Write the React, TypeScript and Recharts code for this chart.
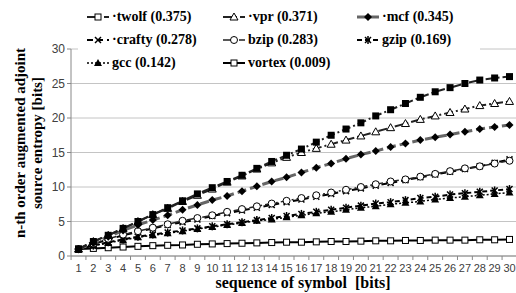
import React from 'react';
import { LineChart, Line, XAxis, YAxis, CartesianGrid } from 'recharts';

const symbols = ['1', '2', '3', '4', '5', '6', '7', '8', '9', '10', '11', '12', '13', '14', '15',
  '16', '17', '18', '19', '20', '21', '22', '23', '24', '25', '26', '27', '28', '29', '30'];

const twolf = [1.0, 2.1, 3.0, 4.0, 5.0, 6.0, 7.0, 8.0, 9.0, 9.9, 10.8, 11.7, 12.7, 13.7, 14.6,
  15.5, 16.5, 17.5, 18.4, 19.3, 20.3, 21.2, 22.1, 23.0, 23.8, 24.4, 25.0, 25.5, 25.8, 26.0];
const vpr = [1.0, 2.1, 3.0, 4.0, 5.0, 6.0, 6.9, 7.9, 8.8, 9.7, 10.7, 11.6, 12.6, 13.5, 14.3,
  15.0, 15.6, 16.2, 16.8, 17.4, 18.0, 18.6, 19.2, 19.8, 20.3, 20.8, 21.3, 21.8, 22.1, 22.4];
const mcf = [1.0, 1.9, 2.8, 3.7, 4.5, 5.2, 5.9, 6.7, 7.4, 8.1, 8.7, 9.4, 10.1, 10.8, 11.4,
  12.1, 12.8, 13.4, 14.1, 14.7, 15.2, 15.8, 16.3, 16.8, 17.2, 17.6, 18.0, 18.4, 18.7, 19.0];
const crafty = [1.0, 1.7, 2.4, 3.0, 3.5, 4.0, 4.5, 4.9, 5.3, 5.8, 6.2, 6.6, 7.0, 7.4, 7.8,
  8.2, 8.6, 9.0, 9.4, 9.8, 10.2, 10.6, 11.0, 11.4, 11.8, 12.2, 12.6, 13.0, 13.5, 14.0];
const bzip = [1.0, 1.8, 2.5, 3.1, 3.6, 4.1, 4.6, 5.1, 5.5, 5.9, 6.4, 6.8, 7.2, 7.6, 8.0,
  8.4, 8.8, 9.2, 9.6, 10.0, 10.4, 10.8, 11.1, 11.5, 11.9, 12.3, 12.7, 13.0, 13.4, 13.8];
const gzip = [1.0, 1.5, 2.0, 2.4, 2.8, 3.1, 3.4, 3.7, 4.0, 4.3, 4.6, 4.9, 5.2, 5.5, 5.8,
  6.1, 6.4, 6.7, 7.0, 7.3, 7.6, 7.8, 8.1, 8.4, 8.6, 8.9, 9.1, 9.3, 9.5, 9.7];
const gcc = [1.0, 1.5, 1.9, 2.3, 2.7, 3.0, 3.3, 3.6, 3.9, 4.2, 4.5, 4.8, 5.1, 5.3, 5.6,
  5.9, 6.2, 6.4, 6.7, 7.0, 7.2, 7.5, 7.7, 7.9, 8.2, 8.4, 8.6, 8.8, 9.0, 9.2];
const vortex = [1.0, 1.1, 1.2, 1.3, 1.4, 1.5, 1.55, 1.6, 1.7, 1.75, 1.8, 1.85, 1.9, 1.95, 2.0,
  2.0, 2.05, 2.1, 2.1, 2.15, 2.2, 2.2, 2.25, 2.25, 2.3, 2.3, 2.3, 2.35, 2.35, 2.4];

const yTicks = [0, 5, 10, 15, 20, 25, 30];

const data = symbols.map((s, i) => ({
  n: s,
  twolf: twolf[i], vpr: vpr[i], mcf: mcf[i], crafty: crafty[i],
  bzip: bzip[i], gzip: gzip[i], gcc: gcc[i], vortex: vortex[i],
}));

type Shape = 'sqFilled' | 'sqHollow' | 'triHollow' | 'diamond' | 'x' | 'circle' | 'star' | 'triFilled';

const Marker = ({ cx, cy, shape }: { cx: number; cy: number; shape: Shape }) => {
  if (cx == null || cy == null) return null;
  switch (shape) {
    case 'sqFilled':
      return <rect x={cx - 3.5} y={cy - 3.5} width={7} height={7} fill="#000" />;
    case 'sqHollow':
      return <rect x={cx - 3} y={cy - 3} width={6} height={6} fill="#fff" stroke="#000" strokeWidth={1} />;
    case 'triHollow':
      return <polygon points={`${cx},${cy - 4} ${cx + 4},${cy + 3} ${cx - 4},${cy + 3}`} fill="#fff" stroke="#000" strokeWidth={1} />;
    case 'triFilled':
      return <polygon points={`${cx},${cy - 4} ${cx + 4},${cy + 3} ${cx - 4},${cy + 3}`} fill="#000" />;
    case 'diamond':
      return <polygon points={`${cx},${cy - 4} ${cx + 4},${cy} ${cx},${cy + 4} ${cx - 4},${cy}`} fill="#000" />;
    case 'circle':
      return <circle cx={cx} cy={cy} r={3.5} fill="#fff" stroke="#000" strokeWidth={1} />;
    case 'x':
      return (
        <g stroke="#000" strokeWidth={1.5}>
          <line x1={cx - 3} y1={cy - 3} x2={cx + 3} y2={cy + 3} />
          <line x1={cx - 3} y1={cy + 3} x2={cx + 3} y2={cy - 3} />
        </g>
      );
    case 'star':
      return (
        <g stroke="#000" strokeWidth={1.5}>
          <line x1={cx - 3} y1={cy - 3} x2={cx + 3} y2={cy + 3} />
          <line x1={cx - 3} y1={cy + 3} x2={cx + 3} y2={cy - 3} />
          <line x1={cx} y1={cy - 4} x2={cx} y2={cy + 4} />
        </g>
      );
  }
  return null;
};

const dotOf = (shape: Shape) => (p: any) => <Marker key={p.index} cx={p.cx} cy={p.cy} shape={shape} />;

const series = [
  { key: 'vortex', label: 'vortex (0.009)', shape: 'sqHollow' as Shape, color: '#000', width: 2, dash: undefined, legendShape: 'sqHollow' as Shape },
  { key: 'gcc', label: 'gcc (0.142)', shape: 'triFilled' as Shape, color: '#000', width: 1.5, dash: '2 2', legendShape: 'triFilled' as Shape },
  { key: 'gzip', label: 'gzip (0.169)', shape: 'star' as Shape, color: '#000', width: 2, dash: '5 3', legendShape: 'star' as Shape },
  { key: 'crafty', label: '·crafty (0.278)', shape: 'x' as Shape, color: '#000', width: 2, dash: '6 4', legendShape: 'x' as Shape },
  { key: 'bzip', label: 'bzip (0.283)', shape: 'circle' as Shape, color: '#222', width: 1.5, dash: '8 3 2 3', legendShape: 'circle' as Shape },
  { key: 'mcf', label: '·mcf (0.345)', shape: 'diamond' as Shape, color: '#666', width: 3, dash: '9 4', legendShape: 'diamond' as Shape },
  { key: 'vpr', label: '·vpr (0.371)', shape: 'triHollow' as Shape, color: '#222', width: 2, dash: '9 3 2 3', legendShape: 'triHollow' as Shape },
  { key: 'twolf', label: '·twolf (0.375)', shape: 'sqFilled' as Shape, color: '#222', width: 2, dash: '9 3 2 3', legendShape: 'sqHollow' as Shape },
];

const legendRows = [
  ['twolf', 'vpr', 'mcf'],
  ['crafty', 'bzip', 'gzip'],
  ['gcc', 'vortex'],
];
const legendCols = [86, 222, 356];

const LegendBox = () => (
  <div style={{ position: 'absolute', left: 78, top: 0, width: 402, height: 74, background: '#fff' }}>
    {legendRows.map((row, r) =>
      row.map((k, c) => {
        const s = series.find((x) => x.key === k)!;
        return (
          <div key={k} style={{
            position: 'absolute', left: legendCols[c] - 78, top: 9 + r * 23,
            display: 'flex', alignItems: 'center', whiteSpace: 'nowrap',
            fontFamily: '"Liberation Serif", serif', fontWeight: 'bold', fontSize: 14, color: '#000',
          }}>
            <svg width={24} height={12} style={{ marginRight: 2 }}>
              <line x1={1} y1={6} x2={23} y2={6} stroke={s.color} strokeWidth={s.width} strokeDasharray={s.dash} />
              <Marker cx={12} cy={6} shape={s.legendShape} />
            </svg>
            <span>{s.label}</span>
          </div>
        );
      })
    )}
  </div>
);

const XTick = (props: any) => {
  const { x, payload, index } = props;
  const axisY = 256;
  const half = (446 - 15) / 29 / 2;
  return (
    <g>
      <line x1={x - half} y1={axisY} x2={x - half} y2={axisY + 4} stroke="#888" />
      {index === symbols.length - 1 && <line x1={x + half} y1={axisY} x2={x + half} y2={axisY + 4} stroke="#888" />}
      <text x={x} y={axisY + 16} textAnchor="middle" fill="#404040" fontSize={11} fontFamily='"Liberation Sans", sans-serif'>
        {payload.value}
      </text>
    </g>
  );
};

export default function App() {
  return (
    <div style={{ position: 'fixed', left: 0, top: 0, width: 516, height: 293, overflow: 'hidden', background: '#fff' }}>
      <LineChart width={518} height={293} data={data} margin={{ top: 49, right: 1, left: 0, bottom: 0 }}>
        <CartesianGrid vertical={false} stroke="#c4c4c4" />
        <XAxis
          dataKey="n"
          interval={0}
          tickLine={false}
          stroke="#888"
          tick={<XTick />}
          height={37}
          padding={{ left: 7.5, right: 7.5 }}
        />
        <YAxis
          domain={[0, 30]}
          ticks={yTicks}
          width={71}
          stroke="#888"
          tickSize={4}
          tick={{ fill: '#404040', fontSize: 12, fontFamily: '"Liberation Sans", sans-serif' }}
        />
        {series.map((s) => (
          <Line
            key={s.key}
            dataKey={s.key}
            stroke={s.color}
            strokeWidth={s.width}
            strokeDasharray={s.dash}
            dot={dotOf(s.shape)}
            isAnimationActive={false}
          />
        ))}
      </LineChart>
      <LegendBox />
      <div style={{
        position: 'absolute', left: -70, top: 125, width: 200, height: 36,
        transform: 'rotate(-90deg)', textAlign: 'center', lineHeight: '17px',
        fontFamily: '"Liberation Serif", serif', fontWeight: 'bold', fontSize: 15, color: '#000',
      }}>
        n-th order augmented adjoint<br />source entropy [bits]
      </div>
      <div style={{
        position: 'absolute', left: 153, top: 274, width: 300, textAlign: 'center',
        fontFamily: '"Liberation Serif", serif', fontWeight: 'bold', fontSize: 16, lineHeight: '18px', color: '#000',
        whiteSpace: 'pre',
      }}>
        sequence of symbol  [bits]
      </div>
    </div>
  );
}
